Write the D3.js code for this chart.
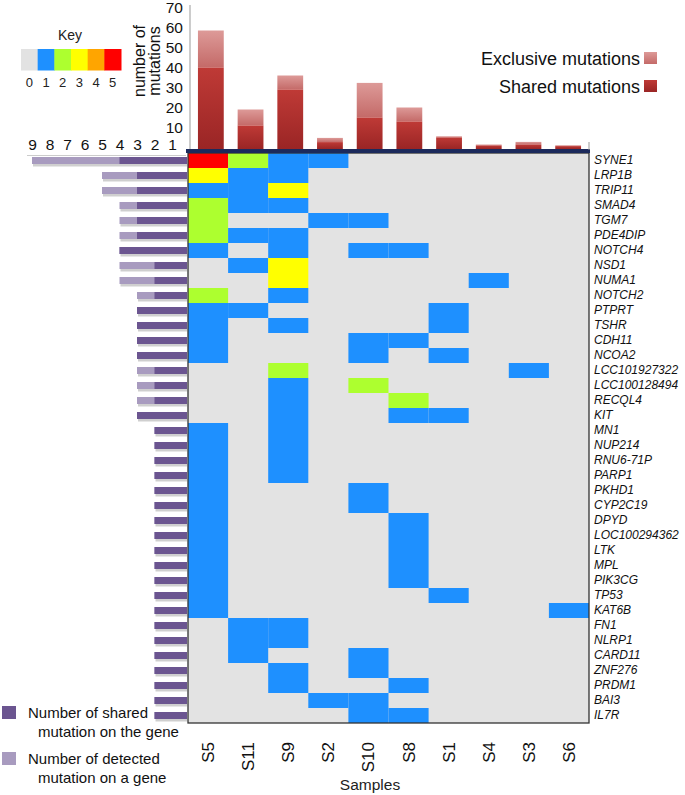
<!DOCTYPE html>
<html><head><meta charset="utf-8">
<script src="https://cdn.jsdelivr.net/npm/d3@7"></script>
<style>
html,body{margin:0;padding:0;background:#fff;}
svg{display:block;font-family:"Liberation Sans",Arial,sans-serif;}
</style></head>
<body>
<svg id="chart" width="685" height="795"></svg>
<script>
// ---------------- DATA ----------------
const samples = ["S5","S11","S9","S2","S10","S8","S1","S4","S3","S6"];
const sharedMutations = [40, 11, 29, 2.7, 15, 13, 5, 1, 1.5, 0.7];
const totalMutations  = [58.5, 19, 36, 4.8, 32.3, 20, 5.6, 1.5, 2.8, 1.1];
const topTicks = [10,20,30,40,50,60,70];

const genes = ["SYNE1","LRP1B","TRIP11","SMAD4","TGM7","PDE4DIP","NOTCH4","NSD1","NUMA1","NOTCH2",
  "PTPRT","TSHR","CDH11","NCOA2","LCC101927322","LCC100128494","RECQL4","KIT","MN1","NUP214",
  "RNU6-71P","PARP1","PKHD1","CYP2C19","DPYD","LOC100294362","LTK","MPL","PIK3CG","TP53",
  "KAT6B","FN1","NLRP1","CARD11","ZNF276","PRDM1","BAI3","IL7R"];

// mutation level per gene (row) per sample (column, same order as samples)
const levels = [
  [5,2,1,1,0,0,0,0,0,0], // SYNE1
  [3,1,1,0,0,0,0,0,0,0], // LRP1B
  [1,1,3,0,0,0,0,0,0,0], // TRIP11
  [2,1,1,0,0,0,0,0,0,0], // SMAD4
  [2,0,0,1,1,0,0,0,0,0], // TGM7
  [2,1,1,0,0,0,0,0,0,0], // PDE4DIP
  [1,0,1,0,1,1,0,0,0,0], // NOTCH4
  [0,1,3,0,0,0,0,0,0,0], // NSD1
  [0,0,3,0,0,0,0,1,0,0], // NUMA1
  [2,0,1,0,0,0,0,0,0,0], // NOTCH2
  [1,1,0,0,0,0,1,0,0,0], // PTPRT
  [1,0,1,0,0,0,1,0,0,0], // TSHR
  [1,0,0,0,1,1,0,0,0,0], // CDH11
  [1,0,0,0,1,0,1,0,0,0], // NCOA2
  [0,0,2,0,0,0,0,0,1,0], // LCC101927322
  [0,0,1,0,2,0,0,0,0,0], // LCC100128494
  [0,0,1,0,0,2,0,0,0,0], // RECQL4
  [0,0,1,0,0,1,1,0,0,0], // KIT
  [1,0,1,0,0,0,0,0,0,0], // MN1
  [1,0,1,0,0,0,0,0,0,0], // NUP214
  [1,0,1,0,0,0,0,0,0,0], // RNU6-71P
  [1,0,1,0,0,0,0,0,0,0], // PARP1
  [1,0,0,0,1,0,0,0,0,0], // PKHD1
  [1,0,0,0,1,0,0,0,0,0], // CYP2C19
  [1,0,0,0,0,1,0,0,0,0], // DPYD
  [1,0,0,0,0,1,0,0,0,0], // LOC100294362
  [1,0,0,0,0,1,0,0,0,0], // LTK
  [1,0,0,0,0,1,0,0,0,0], // MPL
  [1,0,0,0,0,1,0,0,0,0], // PIK3CG
  [1,0,0,0,0,0,1,0,0,0], // TP53
  [1,0,0,0,0,0,0,0,0,1], // KAT6B
  [0,1,1,0,0,0,0,0,0,0], // FN1
  [0,1,1,0,0,0,0,0,0,0], // NLRP1
  [0,1,0,0,1,0,0,0,0,0], // CARD11
  [0,0,1,0,1,0,0,0,0,0], // ZNF276
  [0,0,1,0,0,1,0,0,0,0], // PRDM1
  [0,0,0,1,1,0,0,0,0,0], // BAI3
  [0,0,0,0,1,1,0,0,0,0]  // IL7R
];

const detectedPerGene = [9,5,5,4,4,4,4,4,4,3,3,3,3,3,3,3,3,3,2,2,2,2,2,2,2,2,2,2,2,2,2,2,2,2,2,2,2,2];
const sharedPerGene   = [4,3,3,3,3,3,4,2,2,2,3,3,3,3,2,2,2,3,2,2,2,2,2,2,2,2,2,2,2,2,2,2,2,2,2,2,2,2];
const leftTicks = [1,2,3,4,5,6,7,8,9];

const keyLevels = [0,1,2,3,4,5];
const keyColors = ["#e2e2e2","#1e90ff","#adff2f","#ffff00","#ffa500","#ff0000"];

// ---------------- LAYOUT ----------------
const svg = d3.select("#chart");
const HX0 = 188, HX1 = 589, HY0 = 153, HY1 = 723;
const FONT = "'Liberation Sans', Arial, sans-serif";

const defs = svg.append("defs");
const g1 = defs.append("linearGradient").attr("id","gShared").attr("x1",0).attr("y1",0).attr("x2",0).attr("y2",1);
g1.append("stop").attr("offset","0%").attr("stop-color","#bf3a36");
g1.append("stop").attr("offset","100%").attr("stop-color","#9a2525");
const g2 = defs.append("linearGradient").attr("id","gExcl").attr("x1",0).attr("y1",0).attr("x2",0).attr("y2",1);
g2.append("stop").attr("offset","0%").attr("stop-color","#dd9a98");
g2.append("stop").attr("offset","100%").attr("stop-color","#c46a68");

// ---------------- HEATMAP ----------------
const xS = d3.scaleBand().domain(samples).range([HX0, HX1]);
const yG = d3.scaleBand().domain(genes).range([HY0, HY1]);
const color = d3.scaleOrdinal().domain(keyLevels).range(keyColors);

svg.append("rect").attr("x",HX0).attr("y",HY0).attr("width",HX1-HX0).attr("height",HY1-HY0).attr("fill","#e3e3e3");

const cells = [];
levels.forEach((row,i)=>row.forEach((v,j)=>{ if(v>0) cells.push({g:genes[i], s:samples[j], v}); }));
svg.append("g").selectAll("rect").data(cells).join("rect")
  .attr("x",d=>xS(d.s)).attr("y",d=>yG(d.g))
  .attr("width",xS.bandwidth()).attr("height",yG.bandwidth())
  .attr("fill",d=>color(d.v));

svg.append("rect").attr("x",HX0).attr("y",HY0).attr("width",HX1-HX0).attr("height",HY1-HY0)
  .attr("fill","none").attr("stroke","#333").attr("stroke-width",1.3);
svg.append("rect").attr("x",HX0-2).attr("y",149).attr("width",HX1-HX0+3).attr("height",4).attr("fill","#1c2a5c");
svg.append("line").attr("x1",HX1).attr("x2",HX1).attr("y1",142).attr("y2",150).attr("stroke","#999");

// gene labels
svg.append("g").selectAll("text").data(genes).join("text")
  .attr("x",HX1+5).attr("y",d=>yG(d)+yG.bandwidth()/2+3)
  .attr("font-size",12).attr("font-style","italic").attr("fill","#111")
  .attr("font-family",FONT).text(d=>d);

// sample labels
svg.append("g").selectAll("text").data(samples).join("text")
  .attr("transform",d=>`translate(${xS(d)+xS.bandwidth()/2+6},${HY1+19}) rotate(-90)`)
  .attr("text-anchor","end").attr("font-size",17).attr("fill","#111").attr("font-family",FONT)
  .text(d=>d);
svg.append("text").attr("x",370).attr("y",790).attr("text-anchor","middle")
  .attr("font-size",15.5).attr("fill","#222").attr("font-family",FONT).text("Samples");

// ---------------- TOP BARS ----------------
const yT = d3.scaleLinear().domain([0,70]).range([147.5,7.5]);
const xB = d3.scaleBand().domain(samples).range([191,588]).paddingInner(0.35).paddingOuter(0.175);
const topData = samples.map((s,i)=>({s, shared:sharedMutations[i], total:totalMutations[i]}));
const tb = svg.append("g");
tb.selectAll("rect.ex").data(topData).join("rect").attr("class","ex")
  .attr("x",d=>xB(d.s)).attr("width",xB.bandwidth())
  .attr("y",d=>yT(d.total)).attr("height",d=>yT(d.shared)-yT(d.total))
  .attr("fill","url(#gExcl)");
tb.selectAll("rect.sh").data(topData).join("rect").attr("class","sh")
  .attr("x",d=>xB(d.s)).attr("width",xB.bandwidth())
  .attr("y",d=>yT(d.shared)).attr("height",d=>yT(0)-yT(d.shared)+1.5)
  .attr("fill","url(#gShared)");

svg.append("line").attr("x1",190).attr("x2",190).attr("y1",5).attr("y2",149).attr("stroke","#aaa").attr("stroke-width",1.2);
const ay = svg.append("g").attr("transform","translate(183,0)")
  .call(d3.axisLeft(yT).tickValues(topTicks).tickSize(0).tickPadding(0));
ay.select(".domain").remove();
ay.selectAll("text").attr("font-size",15.5).attr("fill","#111").attr("font-family",FONT);

svg.append("text").attr("transform","translate(145,61) rotate(-90)").attr("text-anchor","middle")
  .attr("font-size",16).attr("fill","#111").attr("font-family",FONT).text("number of");
svg.append("text").attr("transform","translate(160,61) rotate(-90)").attr("text-anchor","middle")
  .attr("font-size",16).attr("fill","#111").attr("font-family",FONT).text("mutations");

// top legend
svg.append("text").attr("x",640).attr("y",65).attr("text-anchor","end").attr("font-size",18)
  .attr("fill","#111").attr("font-family",FONT).text("Exclusive mutations");
svg.append("rect").attr("x",644).attr("y",52).attr("width",13).attr("height",12).attr("fill","url(#gExcl)");
svg.append("text").attr("x",640).attr("y",93).attr("text-anchor","end").attr("font-size",18)
  .attr("fill","#111").attr("font-family",FONT).text("Shared mutations");
svg.append("rect").attr("x",644).attr("y",80).attr("width",13).attr("height",12).attr("fill","url(#gShared)");

// ---------------- KEY ----------------
const xK = d3.scaleBand().domain(keyLevels).range([21,121]);
svg.append("text").attr("x",70).attr("y",40).attr("text-anchor","middle").attr("font-size",14)
  .attr("fill","#222").attr("font-family",FONT).text("Key");
svg.append("g").selectAll("rect").data(keyLevels).join("rect")
  .attr("x",d=>xK(d)).attr("y",49).attr("width",xK.bandwidth()+0.5).attr("height",21.5)
  .attr("fill",d=>color(d));
svg.append("g").selectAll("text").data(keyLevels).join("text")
  .attr("x",d=>xK(d)+xK.bandwidth()/2).attr("y",87).attr("text-anchor","middle")
  .attr("font-size",13).attr("fill","#222").attr("font-family",FONT).text(d=>d);

// ---------------- LEFT BARS ----------------
const xL = d3.scaleLinear().domain([0,9]).range([189.5,32]);
const leftData = genes.map((g,i)=>({g, det:detectedPerGene[i], sh:sharedPerGene[i]}));
const lb = svg.append("g");
const bh = 7;
lb.selectAll("rect.shadow").data(leftData).join("rect").attr("class","shadow")
  .attr("x",d=>xL(d.det)+1).attr("width",d=>HX0-1-xL(d.det)-1)
  .attr("y",d=>yG(d.g)+yG.bandwidth()/2-bh/2+2.5).attr("height",bh).attr("fill","#cfcfcf");
lb.selectAll("rect.det").data(leftData).join("rect").attr("class","det")
  .attr("x",d=>xL(d.det)).attr("width",d=>HX0-1-xL(d.det))
  .attr("y",d=>yG(d.g)+yG.bandwidth()/2-bh/2).attr("height",bh).attr("fill","#a89bbf");
lb.selectAll("rect.sh").data(leftData).join("rect").attr("class","sh")
  .attr("x",d=>xL(d.sh)).attr("width",d=>HX0-1-xL(d.sh))
  .attr("y",d=>yG(d.g)+yG.bandwidth()/2-bh/2).attr("height",bh).attr("fill","#6b5590");

const ax = svg.append("g").attr("transform","translate(0,150)")
  .call(d3.axisTop(xL).tickValues(leftTicks).tickSize(0).tickPadding(0).tickFormat(d3.format("d")));
ax.select(".domain").remove();
ax.selectAll("text").attr("font-size",15.5).attr("fill","#111").attr("font-family",FONT);
svg.append("line").attr("x1",27).attr("x2",186).attr("y1",155.5).attr("y2",155.5).attr("stroke","#cccccc");

// bottom-left legend
svg.append("rect").attr("x",2).attr("y",706).attr("width",14).attr("height",13).attr("fill","#6b5590");
svg.append("text").attr("x",28).attr("y",718).attr("font-size",15).attr("fill","#111").attr("font-family",FONT).text("Number of shared");
svg.append("text").attr("x",38).attr("y",737).attr("font-size",15).attr("fill","#111").attr("font-family",FONT).text("mutation on the gene");
svg.append("rect").attr("x",2).attr("y",752).attr("width",14).attr("height",13).attr("fill","#a89bbf");
svg.append("text").attr("x",28).attr("y",764).attr("font-size",15).attr("fill","#111").attr("font-family",FONT).text("Number of detected");
svg.append("text").attr("x",38).attr("y",783).attr("font-size",15).attr("fill","#111").attr("font-family",FONT).text("mutation on a gene");
</script>
</body></html>
